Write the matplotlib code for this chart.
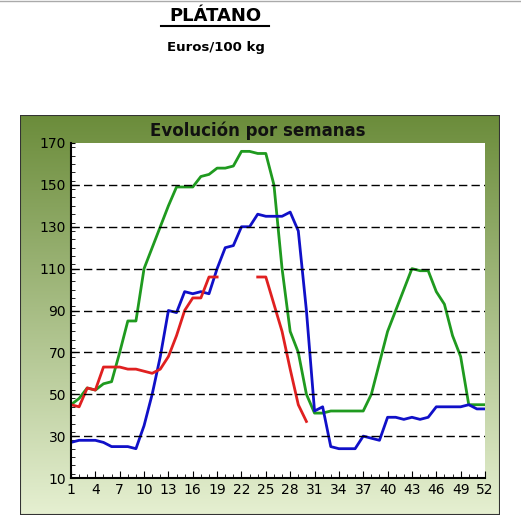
import numpy as np
import matplotlib
matplotlib.use("Agg")
import matplotlib.pyplot as plt
from matplotlib.ticker import MultipleLocator

weeks = list(range(1, 53))
green = [45,48,53,52,55,56,70,85,85,110,120,130,140,149,149,149,154,155,158,158,159,166,166,165,165,150,110,80,70,50,41,41,42,42,42,42,42,50,65,80,90,100,110,109,109,99,93,78,68,45,45,45]
blue = [27,28,28,28,27,25,25,25,24,35,50,68,90,89,99,98,99,98,110,120,121,130,130,136,135,135,135,137,128,90,42,44,25,24,24,24,30,29,28,39,39,38,39,38,39,44,44,44,44,45,43,43]
red = [45,44,53,52,63,63,63,62,62,61,60,62,68,78,90,96,96,106,106,None,None,None,None,106,106,93,80,62,45,37]
red = [np.nan if v is None else v for v in red] + [np.nan]*(52-30)

W, H = 521, 532
fig = plt.figure(figsize=(W/100, H/100), dpi=100)
fig.patch.set_facecolor("white")

bg = fig.add_axes([20/W, 1-515/H, 480/W, 400/H])
grad = np.linspace(0, 1, 256).reshape(-1, 1)
top = np.array([0.42, 0.55, 0.23]); bot = np.array([0.90, 0.94, 0.82])
img = top + (bot - top) * grad[..., None]
bg.imshow(img, aspect="auto", extent=[0, 1, 0, 1])
bg.set_axis_off()
bg.add_patch(plt.Rectangle((0, 0), 1, 1, fill=False, ec="#333333", lw=1.5, transform=bg.transAxes))

ax = fig.add_axes([71/W, 1-478/H, 414/W, 335/H])
ax.set_facecolor("white")
ax.plot(weeks, green, color="#1f9a1f", lw=2)
ax.plot(weeks, blue, color="#1010c8", lw=2)
ax.plot(weeks, red, color="#e02020", lw=2)
ax.set_xlim(1, 52)
ax.set_ylim(10, 170)
ax.set_xticks(range(1, 53, 3))
ax.xaxis.set_minor_locator(MultipleLocator(1))
ax.set_yticks(range(10, 171, 20))
ax.yaxis.set_minor_locator(MultipleLocator(4))
for y in range(30, 170, 20):
    ax.axhline(y, color="black", lw=1, ls=(0, (6, 3)))
ax.tick_params(axis="both", which="both", direction="in", labelsize=10)
ax.tick_params(which="major", length=5)
ax.tick_params(which="minor", length=3)
ax.tick_params(axis="y", which="both", left=True, length=3)
for s in ["top", "right"]:
    ax.spines[s].set_visible(False)
ax.spines["left"].set_linewidth(1.5)
ax.spines["bottom"].set_linewidth(1.5)

fig.text(258/W, 1-131/H, "Evolución por semanas", ha="center", va="center",
         fontsize=12, fontweight="bold", color="#111111")
fig.text(215/W, 1-16/H, "PLÁTANO", ha="center", va="center", fontsize=13, fontweight="bold")
fig.add_artist(plt.Line2D([161/W, 269/W], [1-26/H, 1-26/H], color="black", lw=1.5))
fig.text(216/W, 1-48/H, "Euros/100 kg", ha="center", va="center", fontsize=9.5, fontweight="bold")
fig.add_artist(plt.Line2D([0, 1], [1-1/H, 1-1/H], color="#aaaaaa", lw=1))
fig.savefig("out.png", dpi=100)
